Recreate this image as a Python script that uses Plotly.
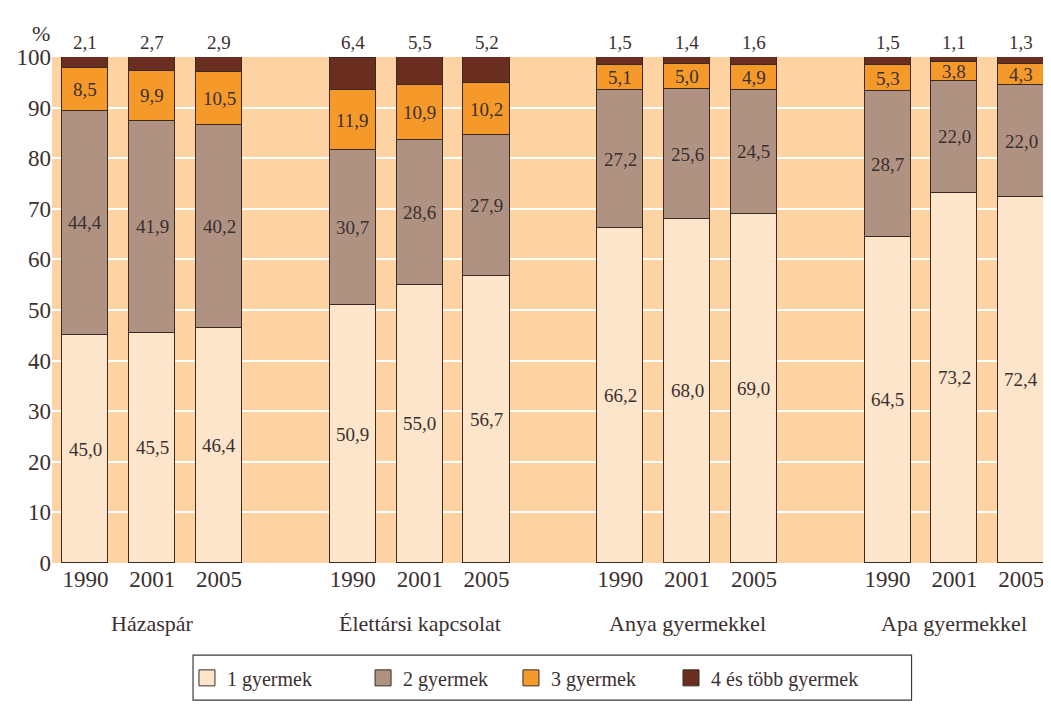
import plotly.graph_objects as go

groups = ["Házaspár", "Élettársi kapcsolat", "Anya gyermekkel", "Apa gyermekkel"]
years = ["1990", "2001", "2005"]
series_names = ["1 gyermek", "2 gyermek", "3 gyermek", "4 és több gyermek"]

one_child = [45.0, 45.5, 46.4, 50.9, 55.0, 56.7, 66.2, 68.0, 69.0, 64.5, 73.2, 72.4]
two_children = [44.4, 41.9, 40.2, 30.7, 28.6, 27.9, 27.2, 25.6, 24.5, 28.7, 22.0, 22.0]
three_children = [8.5, 9.9, 10.5, 11.9, 10.9, 10.2, 5.1, 5.0, 4.9, 5.3, 3.8, 4.3]
four_plus = [2.1, 2.7, 2.9, 6.4, 5.5, 5.2, 1.5, 1.4, 1.6, 1.5, 1.1, 1.3]

colors = ["#FDE5CB", "#B09282", "#F6992B", "#692E1F"]
plot_bg = "#FDD3A4"
text_col = "#3A3030"
edge_col = "#3B2A22"
FONT = "Liberation Serif"

# slot positions: 3 bars per group, one empty slot between groups
xpos = []
for g in range(len(groups)):
    for i in range(len(years)):
        xpos.append(g * 4 + i)

fig = go.Figure()
all_series = [one_child, two_children, three_children, four_plus]
for name, vals, col in zip(series_names, all_series, colors):
    fig.add_trace(go.Bar(
        x=xpos, y=vals, name=name, width=0.69, showlegend=False,
        marker=dict(color=col, line=dict(color=edge_col, width=1.2)),
    ))
# legend-only entries with larger square swatches, one legend each for exact spacing
legend_ids = ["legend", "legend2", "legend3", "legend4"]
legend_x = [0.1355, 0.3123, 0.4608, 0.6215]
for name, col, lid in zip(series_names, colors, legend_ids):
    fig.add_trace(go.Scatter(
        x=[None], y=[None], mode="markers", name=name, legend=lid,
        marker=dict(symbol="square", size=18, color=col, line=dict(color=edge_col, width=1)),
    ))

def fmt(v):
    return f"{v:.1f}".replace(".", ",")

LBL = dict(size=19, color=text_col, family=FONT)
ann = []
for k, x in enumerate(xpos):
    ann.append(dict(x=x, y=one_child[k] / 2, text=fmt(one_child[k]), showarrow=False, font=LBL))
    ann.append(dict(x=x, y=one_child[k] + two_children[k] / 2, text=fmt(two_children[k]),
                    showarrow=False, font=LBL))
    ann.append(dict(x=x, y=one_child[k] + two_children[k] + three_children[k] / 2,
                    text=fmt(three_children[k]), showarrow=False, font=LBL))
    ann.append(dict(x=x, y=100, yshift=15, text=fmt(four_plus[k]), showarrow=False, font=LBL))

for g, name in enumerate(groups):
    ann.append(dict(x=g * 4 + 1, y=0, xref="x", yref="y", yshift=-60, text=name,
                    showarrow=False, font=dict(size=22, color=text_col, family=FONT)))

ann.append(dict(x=0, y=1, xref="paper", yref="paper", xshift=-22, yshift=38, text="%",
                showarrow=False, font=dict(size=22, color=text_col, family=FONT)))

legend_layout = {}
for lid, lx in zip(legend_ids, legend_x):
    legend_layout[lid] = dict(orientation="h", x=lx, xanchor="left", y=-0.227, yanchor="middle",
                              bgcolor="rgba(0,0,0,0)", borderwidth=0,
                              font=dict(size=20, family=FONT, color=text_col),
                              itemsizing="trace")

# page body has an 8px margin, so the figure is 8px smaller and margins shifted
fig.update_layout(
    barmode="stack",
    width=1043, height=696,
    margin=dict(l=44, r=3, t=49, b=141),
    paper_bgcolor="white",
    plot_bgcolor=plot_bg,
    font=dict(family=FONT, color=text_col, size=22),
    annotations=ann,
    showlegend=True,
    shapes=[dict(type="rect", xref="paper", yref="paper",
                 x0=0.1416, x1=0.863, y0=-0.271, y1=-0.182,
                 line=dict(color="#3B3B3B", width=1.2), fillcolor="rgba(0,0,0,0)")],
    bargap=0,
    **legend_layout,
)
fig.update_xaxes(range=[-0.5, 14.4], tickvals=xpos, ticktext=years * len(groups),
                 showgrid=False, zeroline=False, ticks="", tickfont=dict(size=23),
                 showline=False, automargin=False)
fig.update_yaxes(range=[0, 100], tickvals=list(range(0, 101, 10)), showgrid=True,
                 gridcolor="white", gridwidth=1.5, zeroline=False, ticks="",
                 tickfont=dict(size=23), showline=False, automargin=False)

fig.write_html("out.html")
